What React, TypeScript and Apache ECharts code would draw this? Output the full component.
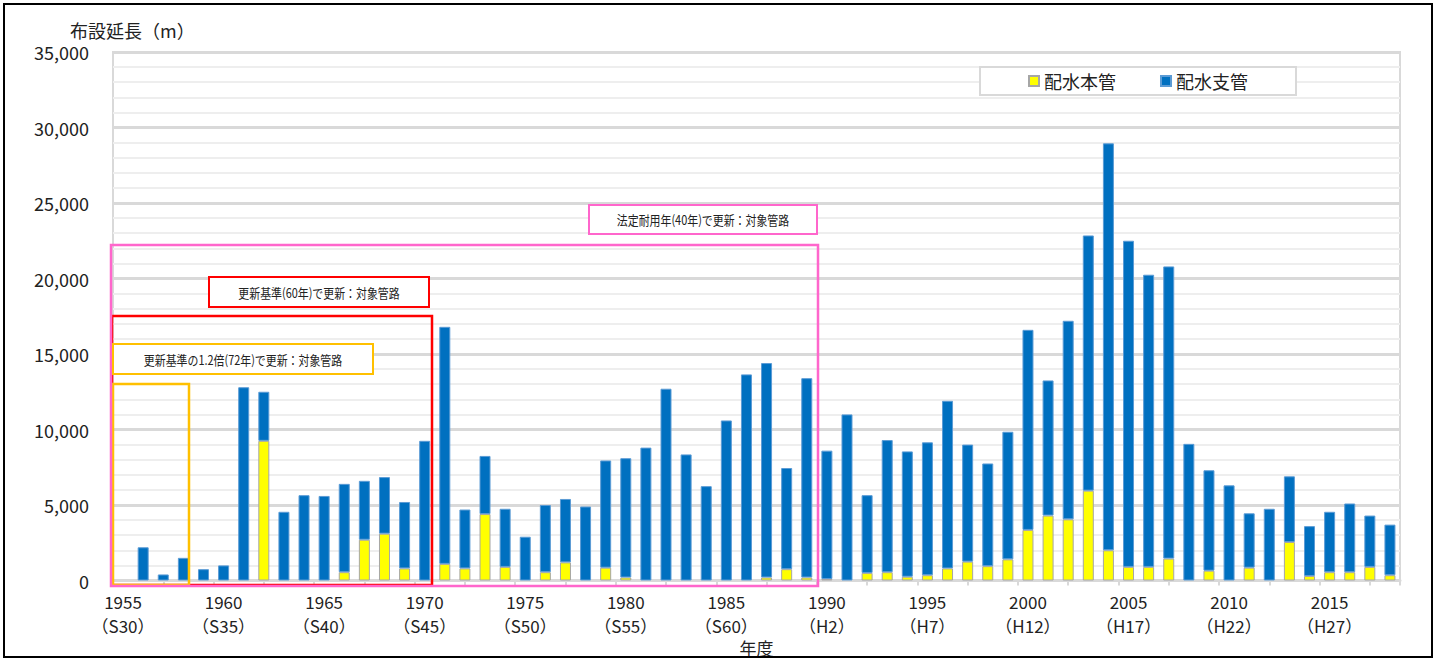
import React, { useEffect, useRef } from "react";
import * as echarts from "echarts";

const FONT = '"Noto Sans CJK JP", "Noto Sans", sans-serif';

const years = [
  "1955", "1956", "1957", "1958", "1959", "1960", "1961", "1962", "1963", "1964",
  "1965", "1966", "1967", "1968", "1969", "1970", "1971", "1972", "1973", "1974",
  "1975", "1976", "1977", "1978", "1979", "1980", "1981", "1982", "1983", "1984",
  "1985", "1986", "1987", "1988", "1989", "1990", "1991", "1992", "1993", "1994",
  "1995", "1996", "1997", "1998", "1999", "2000", "2001", "2002", "2003", "2004",
  "2005", "2006", "2007", "2008", "2009", "2010", "2011", "2012", "2013", "2014",
  "2015", "2016", "2017", "2018",
];

// 配水本管 (yellow)
const mainPipe = [
  0, 0, 0, 0, 0, 0, 0, 9250, 0, 0,
  0, 550, 2700, 3100, 800, 0, 1100, 800, 4400, 900,
  0, 550, 1200, 0, 850, 200, 0, 0, 0, 0,
  0, 0, 200, 750, 200, 100, 0, 500, 550, 250,
  350, 800, 1250, 950, 1400, 3350, 4300, 4050, 5950, 2000,
  900, 900, 1450, 0, 650, 0, 850, 0, 2550, 300,
  550, 550, 900, 350,
];

// 配水支管 (blue)
const branchPipe = [
  0, 2200, 400, 1500, 750, 1000, 12800, 3250, 4550, 5650,
  5600, 5850, 3900, 3750, 4400, 9250, 15700, 3900, 3850, 3850,
  2900, 4450, 4200, 4900, 7100, 7900, 8800, 12700, 8350, 6250,
  10600, 13650, 14200, 6700, 13200, 8500, 11000, 5150, 8750, 8300,
  8800, 11100, 7750, 6800, 8450, 13250, 8950, 13150, 16900, 26950,
  21600, 19350, 19350, 9050, 6650, 6300, 3600, 4750, 4350, 3300,
  4000, 4550, 3400, 3350,
];

const eraLabels: Record<string, string> = {
  "1955": "S30", "1960": "S35", "1965": "S40", "1970": "S45", "1975": "S50",
  "1980": "S55", "1985": "S60", "1990": "H2", "1995": "H7", "2000": "H12",
  "2005": "H17", "2010": "H22", "2015": "H27",
};

const seriesNames = ["配水本管", "配水支管"];
const yAxisTitle = "布設延長（m）";
const xAxisTitle = "年度";
const noteOrange = "更新基準の1.2倍(72年)で更新：対象管路";
const noteRed = "更新基準(60年)で更新：対象管路";
const notePink = "法定耐用年(40年)で更新：対象管路";

// zero-height bars get no outline so they leave no blip on the axis
function barItems(values: number[]) {
  return values.map((v) => (v === 0 ? { value: 0, itemStyle: { borderWidth: 0 } } : v));
}

function labelBox(x: number, y: number, w: number, h: number, color: string, text: string) {
  return [
    {
      type: "rect",
      z: 110,
      shape: { x, y, width: w, height: h },
      style: { fill: "#fff", stroke: color, lineWidth: 2 },
    },
    {
      type: "text",
      z: 111,
      x: x + w / 2,
      y: y + h / 2,
      scaleX: 0.84,
      style: {
        text,
        x: 0,
        y: 0,
        align: "center",
        verticalAlign: "middle",
        font: `13px ${FONT}`,
        fill: "#222",
      },
    },
  ];
}

function regionRect(x: number, y: number, w: number, h: number, color: string, z: number) {
  return {
    type: "rect",
    z,
    shape: { x, y, width: w, height: h },
    style: { fill: "none", stroke: color, lineWidth: 2.5 },
  };
}

export default function App() {
  const ref = useRef<HTMLDivElement>(null);

  useEffect(() => {
    if (!ref.current) return;
    const chart = echarts.init(ref.current, null, { renderer: "svg" });
    chart.setOption({
      animation: false,
      backgroundColor: "#fff",
      textStyle: { fontFamily: FONT },
      grid: {
        left: 113,
        right: 37,
        top: 52,
        bottom: 79.5,
        outerBoundsMode: "none",
        containLabel: false,
        show: true,
        borderColor: "#d9d9d9",
        borderWidth: 2,
      },
      legend: {
        left: 980,
        top: 67,
        icon: "rect",
        itemWidth: 10,
        itemHeight: 10,
        itemGap: 44,
        padding: [5, 48],
        borderColor: "#d9d9d9",
        borderWidth: 2,
        backgroundColor: "#fff",
        data: seriesNames,
        textStyle: { fontSize: 18, fontFamily: FONT, color: "#222" },
      },
      xAxis: [
        {
          type: "category",
          data: years,
          axisLine: { lineStyle: { color: "#d9d9d9", width: 3 } },
          axisTick: { show: false },
          axisLabel: {
            interval: 4,
            formatter: (v: string) => `${v}\n（${eraLabels[v] ?? ""}）`,
            fontSize: 17,
            lineHeight: 24,
            margin: 9,
            color: "#222",
            fontFamily: FONT,
          },
          name: xAxisTitle,
          nameLocation: "middle",
          nameGap: 58,
          nameMoveOverlap: false,
          nameTextStyle: { fontSize: 17, lineHeight: 17, color: "#222", fontFamily: FONT },
        },
        {
          type: "value",
          min: 0,
          max: 64,
          interval: 2.5,
          position: "bottom",
          axisLine: { show: false },
          axisLabel: { show: false },
          splitLine: { show: false },
          axisTick: { show: true, length: 5, lineStyle: { color: "#d9d9d9", width: 2 } },
        },
      ],
      yAxis: {
        type: "value",
        min: 0,
        max: 35000,
        interval: 5000,
        axisLine: { show: false },
        axisTick: { show: false },
        axisLabel: {
          formatter: (v: number) => v.toLocaleString("en-US"),
          fontSize: 18,
          margin: 24,
          color: "#222",
          fontFamily: FONT,
        },
        splitLine: { lineStyle: { color: "#d9d9d9", width: 3 } },
        minorTick: { show: false, splitNumber: 5 },
        minorSplitLine: { show: true, lineStyle: { color: "#eeeeee", width: 2 } },
      },
      series: [
        {
          name: seriesNames[0],
          type: "bar",
          stack: "total",
          xAxisIndex: 0,
          barWidth: 11,
          data: barItems(mainPipe),
          itemStyle: { color: "#ffff00", borderColor: "#a6a6a6", borderWidth: 1 },
        },
        {
          name: seriesNames[1],
          type: "bar",
          stack: "total",
          xAxisIndex: 0,
          barWidth: 11,
          data: barItems(branchPipe),
          itemStyle: { color: "#0070c0", borderColor: "#5b9bd5", borderWidth: 1 },
        },
      ],
      graphic: [
        {
          type: "rect",
          z: 120,
          shape: { x: 4, y: 4, width: 1428, height: 653 },
          style: { fill: "none", stroke: "#000", lineWidth: 2 },
        },
        {
          type: "text",
          z: 100,
          x: 70,
          y: 30,
          style: {
            text: yAxisTitle,
            x: 0,
            y: 0,
            verticalAlign: "middle",
            font: `18px ${FONT}`,
            fill: "#222",
          },
        },
        regionRect(112, 316, 320, 269, "#ff0000", 101),
        regionRect(113, 384, 76, 201, "#ffc000", 102),
        regionRect(111, 245, 707, 341, "#ff66cc", 103),
        ...labelBox(113, 344, 260, 30, "#ffc000", noteOrange),
        ...labelBox(209, 277, 220, 30, "#ff0000", noteRed),
        ...labelBox(589, 205, 228, 29, "#ff66cc", notePink),
      ],
    });
    return () => chart.dispose();
  }, []);

  return (
    <div
      ref={ref}
      style={{ position: "fixed", left: 0, top: 0, width: 1437, height: 660, background: "#fff" }}
    />
  );
}
